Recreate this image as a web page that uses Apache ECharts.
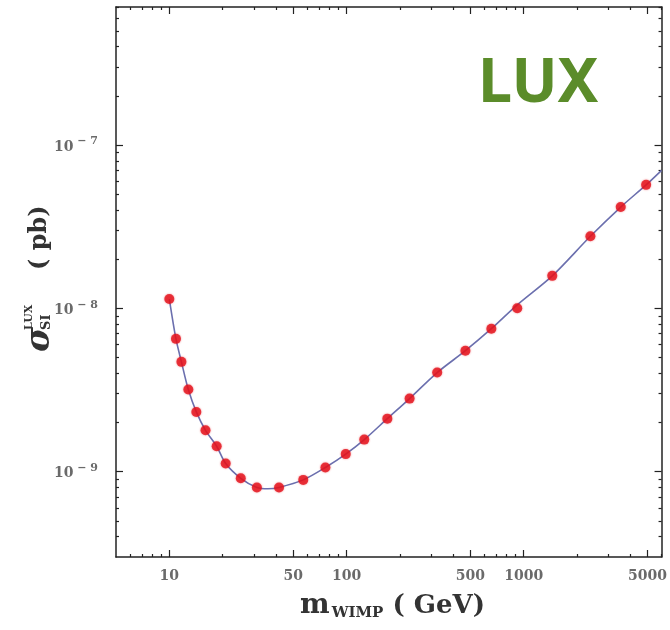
<!DOCTYPE html>
<html>
<head>
<meta charset="utf-8">
<script src="https://cdn.jsdelivr.net/npm/echarts@6/dist/echarts.min.js"></script>
<style>
  html, body { margin: 0; padding: 0; background: #fff; }
  #chart { width: 670px; height: 630px; }
</style>
</head>
<body>
<div id="chart"></div>
<script>
// LUX 点 (m_WIMP, sigma)
var massPts = [10, 10.9, 11.7, 12.8, 14.2, 16, 18.5, 20.8, 25.3, 31.2, 41.6, 57, 76, 99, 126, 170, 227, 325, 469, 657, 920, 1450, 2380, 3530, 4910];
var sigmaPts = [1.14e-8, 6.5e-9, 4.7e-9, 3.18e-9, 2.32e-9, 1.79e-9, 1.43e-9, 1.12e-9, 9.1e-10, 8.0e-10, 8.0e-10, 8.9e-10, 1.06e-9, 1.28e-9, 1.57e-9, 2.11e-9, 2.8e-9, 4.04e-9, 5.5e-9, 7.5e-9, 1.0e-8, 1.58e-8, 2.76e-8, 4.17e-8, 5.7e-8];

// 拟合曲线
var massCurve = [10, 10.9, 11.7, 12.8, 14.2, 16, 18.5, 20.8, 25.3, 31.2, 36, 41.6, 57, 76, 99, 126, 170, 227, 325, 469, 657, 920, 1450, 2380, 3530, 4910, 6000];
var sigmaCurve = [1.14e-8, 6.5e-9, 4.7e-9, 3.18e-9, 2.32e-9, 1.79e-9, 1.43e-9, 1.12e-9, 9.1e-10, 8.0e-10, 7.85e-10, 8.0e-10, 8.9e-10, 1.06e-9, 1.28e-9, 1.57e-9, 2.11e-9, 2.8e-9, 4.04e-9, 5.5e-9, 7.5e-9, 1.05e-8, 1.58e-8, 2.76e-8, 4.17e-8, 5.7e-8, 7.0e-8];

// 刻度
var xMajor = [10, 50, 100, 500, 1000, 5000];
var xMinor = [6, 7, 8, 9, 20, 30, 40, 60, 70, 80, 90, 200, 300, 400, 600, 700, 800, 900, 2000, 3000, 4000, 6000];
var yMajor = [1e-9, 1e-8, 1e-7];
var yMinor = [4e-10, 5e-10, 6e-10, 7e-10, 8e-10, 9e-10, 2e-9, 3e-9, 4e-9, 5e-9, 6e-9, 7e-9, 8e-9, 9e-9,
              2e-8, 3e-8, 4e-8, 5e-8, 6e-8, 7e-8, 8e-8, 9e-8, 2e-7, 3e-7, 4e-7, 5e-7, 6e-7, 7e-7];

var xMin = 5, xMax = 6000, yMin = 3e-10, yMax = 7e-7;

function zip(a, b) {
    var out = [];
    for (var i = 0; i < a.length; i++) out.push([a[i], b[i]]);
    return out;
}

var frameColor = '#222';
var labelColor = '#6a6a6a';
var serif = '"DejaVu Serif", "Liberation Serif", serif';

function xAxisDef(pos, ticks, len, showLine, showLabel) {
    return {
        type: 'log', position: pos, min: xMin, max: xMax,
        axisLine: { show: showLine, lineStyle: { color: frameColor, width: 1.5 } },
        axisTick: { show: true, inside: true, length: len, customValues: ticks,
                    lineStyle: { color: frameColor, width: 1.2 } },
        axisLabel: {
            show: showLabel, customValues: xMajor, margin: 12,
            formatter: function (v) { return String(Math.round(v)); },
            color: labelColor, fontFamily: serif, fontWeight: 'bold', fontSize: 14
        },
        splitLine: { show: false }
    };
}

function yAxisDef(pos, ticks, len, showLine, showLabel) {
    return {
        type: 'log', position: pos, min: yMin, max: yMax,
        axisLine: { show: showLine, lineStyle: { color: frameColor, width: 1.5 } },
        axisTick: { show: true, inside: true, length: len, customValues: ticks,
                    lineStyle: { color: frameColor, width: 1.2 } },
        axisLabel: {
            show: showLabel, customValues: yMajor, margin: 18,
            formatter: function (v) {
                var e = Math.round(Math.log(v) / Math.LN10);
                return '{b|10}{s| − ' + (-e) + '}';
            },
            rich: {
                b: { color: labelColor, fontFamily: serif, fontWeight: 'bold', fontSize: 14, verticalAlign: 'bottom' },
                s: { color: labelColor, fontFamily: serif, fontWeight: 'bold', fontSize: 11, verticalAlign: 'bottom', padding: [0, 0, 7, 0] }
            }
        },
        splitLine: { show: false }
    };
}

var chart = echarts.init(document.getElementById('chart'));
var option = {
    backgroundColor: '#fff',
    animation: false,
    grid: { left: 116, right: 4, top: 7, bottom: 73 },
    xAxis: [
        xAxisDef('bottom', xMajor, 7, true, true),
        xAxisDef('bottom', xMinor, 3, false, false),
        xAxisDef('top', xMajor, 7, true, false),
        xAxisDef('top', xMinor, 3, false, false)
    ],
    yAxis: [
        yAxisDef('left', yMajor, 7, true, true),
        yAxisDef('left', yMinor, 3, false, false),
        yAxisDef('right', yMajor, 7, true, false),
        yAxisDef('right', yMinor, 3, false, false)
    ],
    graphic: [
        {
            type: 'text', left: 478, top: 54,
            style: { text: 'LUX', fill: '#5b8c2a', font: 'bold 61px "Noto Sans", sans-serif' }
        },
        {
            type: 'text', left: 300, top: 592,
            style: {
                text: '{m|m}{sub|WIMP}{p| ( GeV)}',
                rich: {
                    m: { fontFamily: serif, fontWeight: 'bold', fontSize: 28, fill: '#333' },
                    sub: { fontFamily: serif, fontWeight: 'bold', fontSize: 15, fill: '#333', padding: [14, 0, 0, 2] },
                    p: { fontFamily: serif, fontWeight: 'bold', fontSize: 26, fill: '#333' }
                }
            }
        },
        {
            type: 'group', x: 40, y: 278, rotation: Math.PI / 2,
            children: [
                { type: 'text', x: -74, y: 0,
                  style: { text: 'σ', font: 'italic bold 34px ' + serif, fill: '#333', verticalAlign: 'middle', align: 'left' } },
                { type: 'text', x: -52, y: -11,
                  style: { text: 'LUX', font: 'bold 11px ' + serif, fill: '#333', verticalAlign: 'middle', align: 'left' } },
                { type: 'text', x: -52, y: 7,
                  style: { text: 'SI', font: 'bold 13px ' + serif, fill: '#333', verticalAlign: 'middle', align: 'left' } },
                { type: 'text', x: 8, y: 0,
                  style: { text: '( pb)', font: 'bold 24px ' + serif, fill: '#333', verticalAlign: 'middle', align: 'left' } }
            ]
        }
    ],
    series: [
        {
            name: 'curve', type: 'line', xAxisIndex: 0, yAxisIndex: 0,
            data: zip(massCurve, sigmaCurve), smooth: 0.3, showSymbol: false,
            lineStyle: { color: '#6b6fae', width: 1.6 }, z: 2
        },
        {
            name: 'LUX', type: 'scatter', xAxisIndex: 0, yAxisIndex: 0,
            data: zip(massPts, sigmaPts), symbolSize: 10,
            itemStyle: { color: '#e3121c', shadowBlur: 2, shadowColor: 'rgba(230,20,30,0.6)' }, z: 3
        }
    ]
};
chart.setOption(option);
</script>
</body>
</html>
